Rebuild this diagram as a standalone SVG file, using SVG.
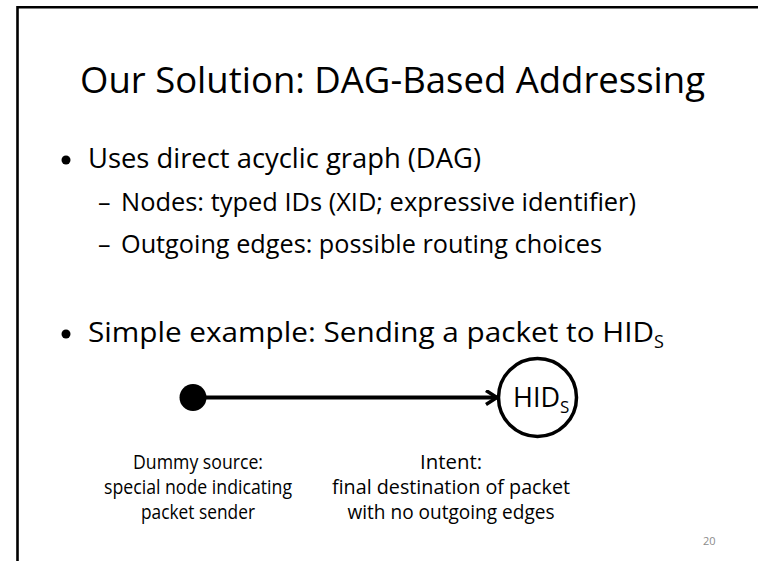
<svg xmlns="http://www.w3.org/2000/svg" width="758" height="561" viewBox="0 0 758 561">
  <style>
    text { font-family: "Open Sans", "Liberation Sans", sans-serif; fill: #000; }
    .title { font-size: 37px; }
    .b1 { font-size: 28px; }
    .b2 { font-size: 25px; }
    .lbl { font-size: 19.5px; text-anchor: middle; }
    .num { font-size: 11px; fill: #8c8c8c; }
    .edge { stroke: #000; stroke-width: 4; fill: none; }
  </style>
  <defs>
    <marker id="arrow" viewBox="0 0 16 16" refX="14" refY="8" markerWidth="16" markerHeight="16" markerUnits="userSpaceOnUse" orient="auto">
      <path d="M3,1 L14,8 L3,15" fill="none" stroke="#000" stroke-width="3.5"/>
    </marker>
  </defs>
  <rect width="758" height="561" fill="#fff"/>
  <g id="frame">
    <path d="M17.5,561 V7.3 H758" fill="none" stroke="#000" stroke-width="2.6"/>
  </g>
  <g id="title">
    <text class="title" x="80" y="93" textLength="625" lengthAdjust="spacingAndGlyphs">Our Solution: DAG-Based Addressing</text>
  </g>
  <g id="bullets">
    <circle cx="66" cy="160" r="4.5" fill="#000"/>
    <text class="b1" x="88" y="168" textLength="393" lengthAdjust="spacingAndGlyphs">Uses direct acyclic graph (DAG)</text>
    <text class="b2" x="98" y="211">–</text>
    <text class="b2" x="121" y="211" textLength="515" lengthAdjust="spacingAndGlyphs">Nodes: typed IDs (XID; expressive identifier)</text>
    <text class="b2" x="98" y="253">–</text>
    <text class="b2" x="121" y="253" textLength="481" lengthAdjust="spacingAndGlyphs">Outgoing edges: possible routing choices</text>
    <circle cx="66" cy="334" r="4.5" fill="#000"/>
    <text class="b1" x="88" y="342"><tspan textLength="566" lengthAdjust="spacingAndGlyphs">Simple example: Sending a packet to HID</tspan><tspan font-size="18" dy="6">S</tspan></text>
  </g>
  <g id="connectors">
    <line class="edge" x1="193" y1="397.5" x2="497" y2="397.5" marker-end="url(#arrow)"/>
  </g>
  <g id="node-source">
    <circle cx="193" cy="397.5" r="13.5" fill="#000"/>
    <text class="lbl" x="198" y="469" textLength="130" lengthAdjust="spacingAndGlyphs">Dummy source:</text>
    <text class="lbl" x="198" y="494" textLength="188" lengthAdjust="spacingAndGlyphs">special node indicating</text>
    <text class="lbl" x="198" y="519" textLength="114" lengthAdjust="spacingAndGlyphs">packet sender</text>
  </g>
  <g id="node-hid">
    <circle cx="537.5" cy="397.5" r="39" fill="#fff" stroke="#000" stroke-width="3.5"/>
    <text x="513" y="407" font-size="27">HID<tspan font-size="17" dy="6">S</tspan></text>
    <text class="lbl" x="451" y="469" textLength="62" lengthAdjust="spacingAndGlyphs">Intent:</text>
    <text class="lbl" x="451" y="494" textLength="238" lengthAdjust="spacingAndGlyphs">final destination of packet</text>
    <text class="lbl" x="451" y="519" textLength="207" lengthAdjust="spacingAndGlyphs">with no outgoing edges</text>
  </g>
  <text class="num" x="703" y="545">20</text>
</svg>
